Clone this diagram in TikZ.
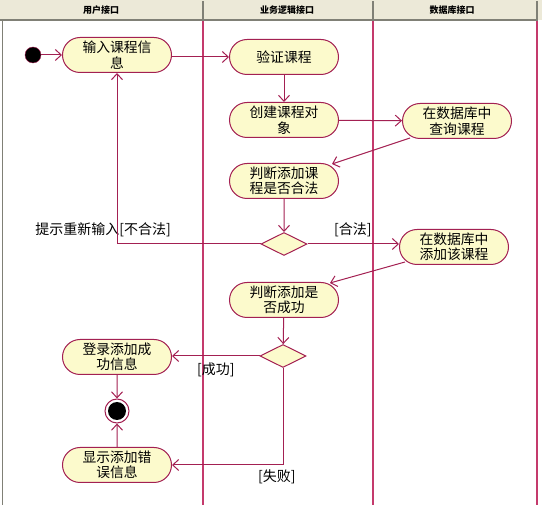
\documentclass[tikz,border=0pt]{standalone}
\usepackage{fontspec}
\setmainfont{Noto Sans CJK SC}
\usepackage{xcolor}
\usepackage{tikz}
\usetikzlibrary{shapes.geometric, shapes.misc, arrows.meta, positioning, calc}

\definecolor{umlred}{RGB}{163,32,82}
\definecolor{lanered}{RGB}{196,58,108}
\definecolor{actfill}{RGB}{252,250,204}
\definecolor{headbg}{RGB}{236,233,216}
\definecolor{headline}{RGB}{128,128,118}

\begin{document}
\begin{tikzpicture}[
  x=1pt, y=-1pt,
  act/.style={rounded rectangle, draw=umlred, fill=actfill, line width=1pt, minimum width=111pt, minimum height=35pt, inner sep=1pt, align=center, font=\fontsize{13.8}{15.5}\selectfont},
  dec/.style={diamond, draw=umlred, fill=actfill, line width=1pt, aspect=2, minimum width=46pt, minimum height=23pt, inner sep=0pt},
  startst/.style={circle, draw=umlred, fill=black, minimum size=16pt, inner sep=0pt},
  endst/.style={circle, draw=umlred, fill=white, line width=1pt, minimum size=24pt, inner sep=0pt, path picture={\fill[black] (path picture bounding box.center) circle (9pt);}},
  guard/.style={font=\fontsize{14}{15}\selectfont, inner sep=0pt},
  lanehead/.style={font=\fontsize{9}{10}\selectfont\bfseries, inner sep=0pt},
  flow/.style={-{Straight Barb[length=6pt, width=11pt]}, line width=1pt, umlred}
]
\useasboundingbox (0,0) rectangle (542,505);

% Swimlanes
\fill[headbg] (0,0) rectangle (542,20);
\draw[headline, line width=2pt] (0,20) -- (538,20);
\draw[headline, line width=1.5pt] (2.5,20) -- (2.5,505);
\foreach \lx in {203, 373, 537} {
  \draw[headline, line width=1.2pt] (\lx,1) -- (\lx,19);
  \draw[lanered, line width=1.2pt] (\lx,21) -- (\lx,505);
}
\node[lanehead] (lane1) at (101,10) {用户接口};
\node[lanehead] (lane2) at (287,10) {业务逻辑接口};
\node[lanehead] (lane3) at (452,10) {数据库接口};

% Activities
\node[startst] (start)   at (33,55)   {};
\node[act]     (input)   at (117,55)  {输入课程信\\息};
\node[act]     (verify)  at (284,57)  {验证课程};
\node[act]     (create)  at (284,120) {创建课程对\\象};
\node[act]     (query)   at (457,121) {在数据库中\\查询课程};
\node[act]     (judge1)  at (284,181) {判断添加课\\程是否合法};
\node[dec]     (check1)  at (284,244) {};
\node[act]     (add)     at (454,247) {在数据库中\\添加该课程};
\node[act]     (judge2)  at (284,300) {判断添加是\\否成功};
\node[dec]     (check2)  at (283,356) {};
\node[act]     (success) at (117,357) {登录添加成\\功信息};
\node[endst]   (stop)    at (117,411) {};
\node[act]     (error)   at (117,465) {显示添加错\\误信息};

% Guard labels
\node[guard, anchor=south east] (retry) at (171,237) {提示重新输入[不合法]};
\node[guard, anchor=south west] (ok)    at (334,237) {[合法]};
\node[guard, anchor=north west] (done)  at (197,363) {[成功]};
\node[guard, anchor=north west] (fail)  at (258,470) {[失败]};

% Flows
\draw[flow] (start)  -- (input);
\draw[flow] (input.east |- 0,57) -- (verify.west);
\draw[flow] (verify) -- (create);
\draw[flow] (create) -- (query);
\draw[flow] ($(query.center)+(-47,17)$) -- ($(judge1.center)+(48,-17)$);
\draw[flow] (judge1) -- (check1);
\draw[flow] (check1.east) -- (add.west |- check1.east);
\draw[flow] (check1.west) -| (input.south);
\draw[flow] ($(add.center)+(-49,15)$) -- ($(judge2.center)+(46,-17)$);
\draw[flow] (judge2) -- (check2);
\draw[flow] (check2.west) -- (success.east |- check2.west);
\draw[flow] (success) -- (stop);
\draw[flow] (check2.south) |- (error.east);
\draw[flow] (error)  -- (stop);

\end{tikzpicture}
\end{document}
